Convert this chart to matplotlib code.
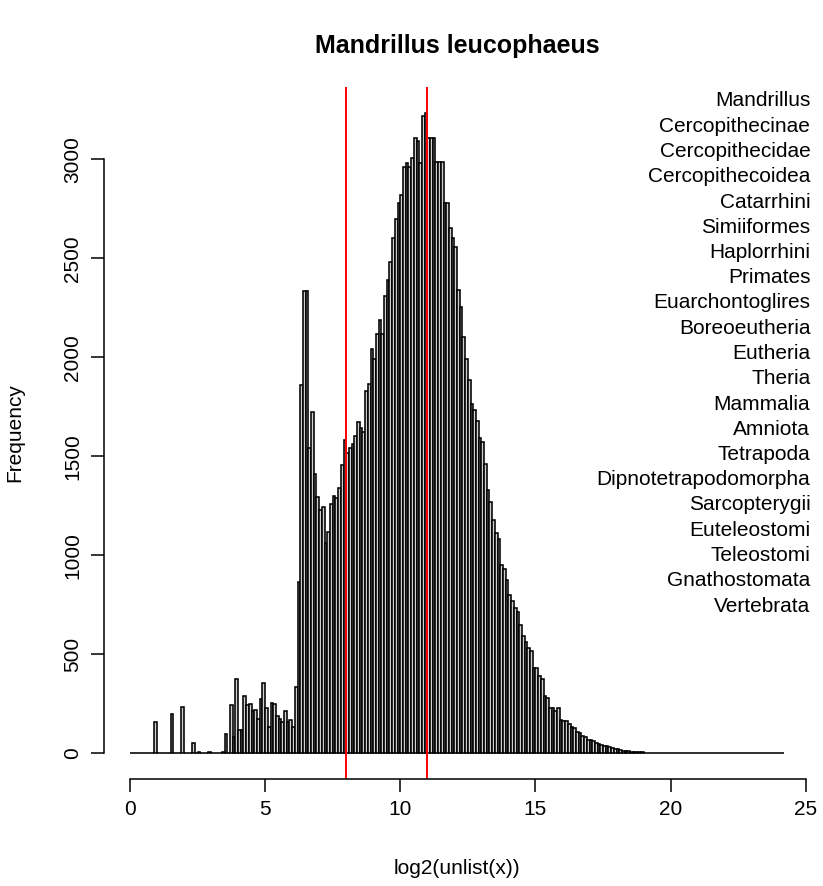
import numpy as np
import matplotlib
matplotlib.use("Agg")
import matplotlib.pyplot as plt

plt.rcParams["font.family"] = ["Liberation Sans", "DejaVu Sans"]
plt.rcParams["font.size"] = 15

# histogram of log2 values, bins of 0.1 starting at 0
BIN_WIDTH = 0.1

# bins 0 - 61 (0.0 - 6.2)
low_counts = [
    0, 0, 0, 0, 0, 0, 0, 0, 0, 158,
    0, 0, 0, 0, 0, 199, 0, 0, 0, 233,
    0, 0, 0, 52, 0, 9, 0, 0, 3, 6,
    0, 4, 0, 3, 5, 100, 0, 243, 84, 378,
    116, 119, 288, 243, 250, 213, 219, 174, 275, 354,
    231, 133, 253, 250, 187, 174, 158, 213, 158, 168,
    135, 337,
]

# bins 62 - 147 (6.2 - 14.8)
main_counts = [
    864, 1862, 2332, 2336, 1541, 1723, 1409, 1295,
    1227, 1243, 1063, 1118, 1258, 1298, 1290, 1341, 1456, 1581,
    1515, 1541, 1562, 1600, 1671, 1642, 1625, 1828, 1865, 2040,
    1989, 2116, 2187, 2116, 2311, 2390, 2480, 2600, 2700, 2780,
    2818, 2959, 2981, 2959, 3007, 3107, 3094, 2981, 3220, 3235,
    3105, 3105, 3105, 2988, 2988, 2988, 2781, 2781, 2655, 2601,
    2557, 2340, 2254, 2102, 1993, 1885, 1766, 1733, 1679, 1592,
    1571, 1462, 1332, 1267, 1180, 1115, 1083, 953, 930, 877,
    801, 770, 736, 714, 649, 595, 562, 530,
]

# bins 148 - 241 (14.8 - 24.2)
tail_counts = [
    517, 432, 429, 390, 373, 288, 280, 229, 229, 216,
    229, 166, 161, 161, 150, 133, 127, 110, 102, 89,
    82, 65, 68, 60, 52, 48, 43, 38, 35, 30,
    26, 23, 21, 16, 14, 12, 10, 9, 8, 7,
    6, 5, 4, 3, 2, 2, 2, 1, 1, 1,
    1, 1, 1, 0, 1, 0, 0, 1, 0, 0,
    0, 0, 0, 0, 0, 0, 0, 0, 0, 0,
    0, 0, 0, 0, 0, 0, 0, 0, 0, 0,
    0, 0, 0, 0, 0, 0, 0, 0, 0, 0,
    0, 0, 0, 0,
]

counts = np.array(low_counts + main_counts + tail_counts)
edges = np.arange(len(counts) + 1) * BIN_WIDTH

red_lines = [8, 11]

taxa = ["Mandrillus", "Cercopithecinae", "Cercopithecidae", "Cercopithecoidea",
        "Catarrhini", "Simiiformes", "Haplorrhini", "Primates",
        "Euarchontoglires", "Boreoeutheria", "Eutheria", "Theria", "Mammalia",
        "Amniota", "Tetrapoda", "Dipnotetrapodomorpha", "Sarcopterygii",
        "Euteleostomi", "Teleostomi", "Gnathostomata", "Vertebrata"]

W, H = 823, 886
fig = plt.figure(figsize=(W / 100, H / 100), dpi=100)

# plot region in pixels
left, right, top, bottom = 103.8, 810.3, 87, 779
ax = fig.add_axes([left / W, 1 - bottom / H, (right - left) / W, (bottom - top) / H])

ax.bar(edges[:-1], counts, width=BIN_WIDTH, align="edge",
       facecolor="#d0d0d0", edgecolor="black", linewidth=1.15)

for v in red_lines:
    ax.axvline(v, color="red", linewidth=1.4)

xmax = edges[-1]
ax.set_xlim(-0.04 * xmax, xmax * 1.04)
ymax = counts.max()
ax.set_ylim(-0.04 * ymax, ymax * 1.04)

for s in ["top", "right"]:
    ax.spines[s].set_visible(False)
ax.spines["bottom"].set_bounds(0, 25)
ax.spines["left"].set_bounds(0, 3000)
for s in ["bottom", "left"]:
    ax.spines[s].set_linewidth(1.1)

ax.set_xticks([0, 5, 10, 15, 20, 25])
ax.set_yticks([0, 500, 1000, 1500, 2000, 2500, 3000])
ax.tick_params(length=9.4, width=1.1, pad=6)
for lbl in ax.get_yticklabels():
    lbl.set_rotation(90)
    lbl.set_va("center")

# taxonomy labels, right aligned at the plot edge
for i, name in enumerate(taxa):
    y = 101 + i * 25.25
    fig.text(right / W, 1 - y / H, name, ha="right", va="center", fontsize=15)

fig.text((left + right) / 2 / W, 1 - 46 / H, "Mandrillus leucophaeus",
         ha="center", va="center", fontsize=18, fontweight="bold")
fig.text((left + right) / 2 / W, 1 - 868 / H, "log2(unlist(x))",
         ha="center", va="center", fontsize=15)
fig.text(15 / W, 1 - (top + bottom) / 2 / H, "Frequency",
         ha="center", va="center", rotation=90, fontsize=15)

fig.savefig("out.png", dpi=100)
